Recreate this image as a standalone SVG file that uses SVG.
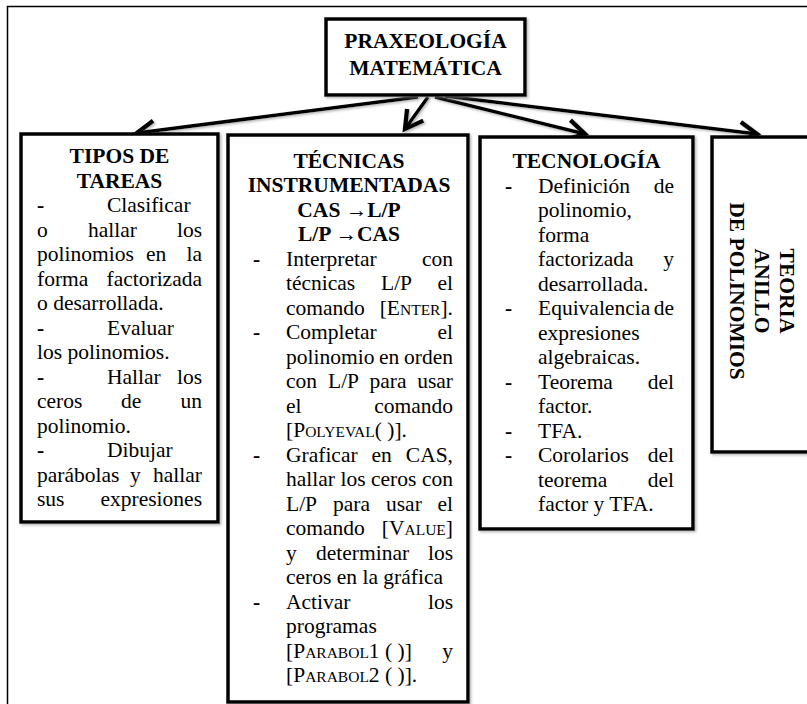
<svg xmlns="http://www.w3.org/2000/svg" width="807" height="704" viewBox="0 0 807 704">
<style>
  text { font-family: "Liberation Serif", "Times New Roman", serif; font-size: 21.5px; fill: #000; }
  .b { font-weight: bold; }
  .c { text-anchor: middle; }
  .e { text-anchor: end; }
  .sc { font-size: 15.5px; }
  .box { fill: #fff; stroke: #000; stroke-width: 3.5; filter: url(#sh); }
  .con { stroke: #000; stroke-width: 3.5; fill: none; marker-end: url(#arr); filter: url(#sh); }
</style>
<defs>
  <filter id="sh" x="-10%" y="-10%" width="120%" height="120%">
    <feDropShadow dx="1.5" dy="1.5" stdDeviation="1" flood-color="#888" flood-opacity="0.6"/>
  </filter>
  <marker id="arr" markerUnits="userSpaceOnUse" markerWidth="30" markerHeight="30" refX="0" refY="0" viewBox="-18 -12 22 24" orient="auto">
    <path d="M-14,-8 L0,0 L-14,8" fill="none" stroke="#000" stroke-width="3.5" stroke-linejoin="miter"/>
  </marker>
</defs>
<rect width="807" height="704" fill="#fff"/>
<path d="M7.5,704 V6.5 H807" fill="none" stroke="#000" stroke-width="1.5"/>

<g id="connectors">
  <line class="con" x1="418" y1="97" x2="137" y2="133"/>
  <line class="con" x1="428" y1="97" x2="405" y2="129"/>
  <line class="con" x1="435" y1="97" x2="585" y2="134"/>
  <line class="con" x1="445" y1="96" x2="757" y2="134"/>
</g>

<g id="praxeologia">
  <rect class="box" x="326" y="19" width="199" height="76"/>
  <text class="b c" x="425.5" y="48">PRAXEOLOGÍA</text>
  <text class="b c" x="425.5" y="75">MATEMÁTICA</text>
</g>

<g id="tipos">
  <rect class="box" x="21" y="134" width="197" height="388"/>
  <text class="b c" x="119.5" y="163">TIPOS DE</text>
  <text class="b c" x="119.5" y="187.5">TAREAS</text>
  <text class="b" x="37" y="212">-</text><text x="107" y="212">Clasificar</text>
  <text x="37" y="236.5">o</text><text x="88" y="236.5">hallar</text><text class="e" x="202" y="236.5">los</text>
  <text x="37" y="261">polinomios</text><text x="146" y="261">en</text><text class="e" x="202" y="261">la</text>
  <text x="37" y="285.5">forma</text><text class="e" x="202" y="285.5">factorizada</text>
  <text x="37" y="310">o desarrollada.</text>
  <text class="b" x="37" y="334.5">-</text><text x="107" y="334.5">Evaluar</text>
  <text x="37" y="359">los polinomios.</text>
  <text class="b" x="37" y="383.5">-</text><text x="107" y="383.5">Hallar</text><text class="e" x="202" y="383.5">los</text>
  <text x="37" y="408">ceros</text><text x="121" y="408">de</text><text class="e" x="202" y="408">un</text>
  <text x="37" y="432.5">polinomio.</text>
  <text class="b" x="37" y="457">-</text><text x="107" y="457">Dibujar</text>
  <text x="37" y="481.5">parábolas</text><text x="130" y="481.5">y</text><text class="e" x="202" y="481.5">hallar</text>
  <text x="37" y="506">sus</text><text class="e" x="202" y="506">expresiones</text>
</g>

<g id="tecnicas">
  <rect class="box" x="228" y="135" width="240" height="567"/>
  <text class="b c" x="349" y="167.5">TÉCNICAS</text>
  <text class="b c" x="349" y="192">INSTRUMENTADAS</text>
  <text class="b c" x="349" y="216.5">CAS →L/P</text>
  <text class="b c" x="349" y="241">L/P →CAS</text>
  <text class="b" x="253" y="265.5">-</text><text x="286" y="265.5">Interpretar</text><text class="e" x="453" y="265.5">con</text>
  <text x="286" y="290">técnicas</text><text x="381" y="290">L/P</text><text class="e" x="453" y="290">el</text>
  <text x="286" y="314.5">comando</text><text class="e" x="453" y="314.5">[E<tspan class="sc">NTER</tspan>].</text>
  <text class="b" x="253" y="339">-</text><text x="286" y="339">Completar</text><text class="e" x="453" y="339">el</text>
  <text x="286" y="363.5">polinomio</text><text x="379" y="363.5">en</text><text class="e" x="453" y="363.5">orden</text>
  <text x="286" y="388">con</text><text x="328" y="388">L/P</text><text x="369.5" y="388">para</text><text class="e" x="453" y="388">usar</text>
  <text x="286" y="412.5">el</text><text class="e" x="453" y="412.5">comando</text>
  <text x="286" y="437">[P<tspan class="sc">OLYEVAL</tspan>( )].</text>
  <text class="b" x="253" y="461.5">-</text><text x="286" y="461.5">Graficar</text><text x="371.5" y="461.5">en</text><text class="e" x="453" y="461.5">CAS,</text>
  <text x="286" y="486">hallar</text><text x="340.5" y="486">los</text><text x="371" y="486">ceros</text><text class="e" x="453" y="486">con</text>
  <text x="286" y="510.5">L/P</text><text x="333" y="510.5">para</text><text x="386" y="510.5">usar</text><text class="e" x="453" y="510.5">el</text>
  <text x="286" y="535">comando</text><text class="e" x="453" y="535">[V<tspan class="sc">ALUE</tspan>]</text>
  <text x="286" y="559.5">y</text><text x="316" y="559.5">determinar</text><text class="e" x="453" y="559.5">los</text>
  <text x="286" y="584">ceros en la gráfica</text>
  <text class="b" x="253" y="608.5">-</text><text x="286" y="608.5">Activar</text><text class="e" x="453" y="608.5">los</text>
  <text x="286" y="633">programas</text>
  <text x="286" y="657.5">[P<tspan class="sc">ARABOL</tspan>1 ( )]</text><text class="e" x="453" y="657.5">y</text>
  <text x="286" y="682">[P<tspan class="sc">ARABOL</tspan>2 ( )].</text>
</g>

<g id="tecnologia">
  <rect class="box" x="480" y="137" width="213" height="392"/>
  <text class="b c" x="586.5" y="168">TECNOLOGÍA</text>
  <text class="b" x="505" y="192.5">-</text><text x="538" y="192.5">Definición</text><text class="e" x="674" y="192.5">de</text>
  <text x="538" y="217">polinomio,</text>
  <text x="538" y="241.5">forma</text>
  <text x="538" y="266">factorizada</text><text class="e" x="674" y="266">y</text>
  <text x="538" y="290.5">desarrollada.</text>
  <text class="b" x="505" y="315">-</text><text x="538" y="315">Equivalencia</text><text class="e" x="674" y="315">de</text>
  <text x="538" y="339.5">expresiones</text>
  <text x="538" y="364">algebraicas.</text>
  <text class="b" x="505" y="388.5">-</text><text x="538" y="388.5">Teorema</text><text class="e" x="674" y="388.5">del</text>
  <text x="538" y="413">factor.</text>
  <text class="b" x="505" y="437.5">-</text><text x="538" y="437.5">TFA.</text>
  <text class="b" x="505" y="462">-</text><text x="538" y="462">Corolarios</text><text class="e" x="674" y="462">del</text>
  <text x="538" y="486.5">teorema</text><text class="e" x="674" y="486.5">del</text>
  <text x="538" y="511">factor y TFA.</text>
</g>

<g id="teoria">
  <rect class="box" x="712" y="137" width="110" height="315"/>
  <text class="b c" transform="translate(780,291) rotate(90)">TEORIA</text>
  <text class="b c" transform="translate(755,291) rotate(90)">ANILLO</text>
  <text class="b c" transform="translate(730,291) rotate(90)">DE POLINOMIOS</text>
</g>
</svg>
